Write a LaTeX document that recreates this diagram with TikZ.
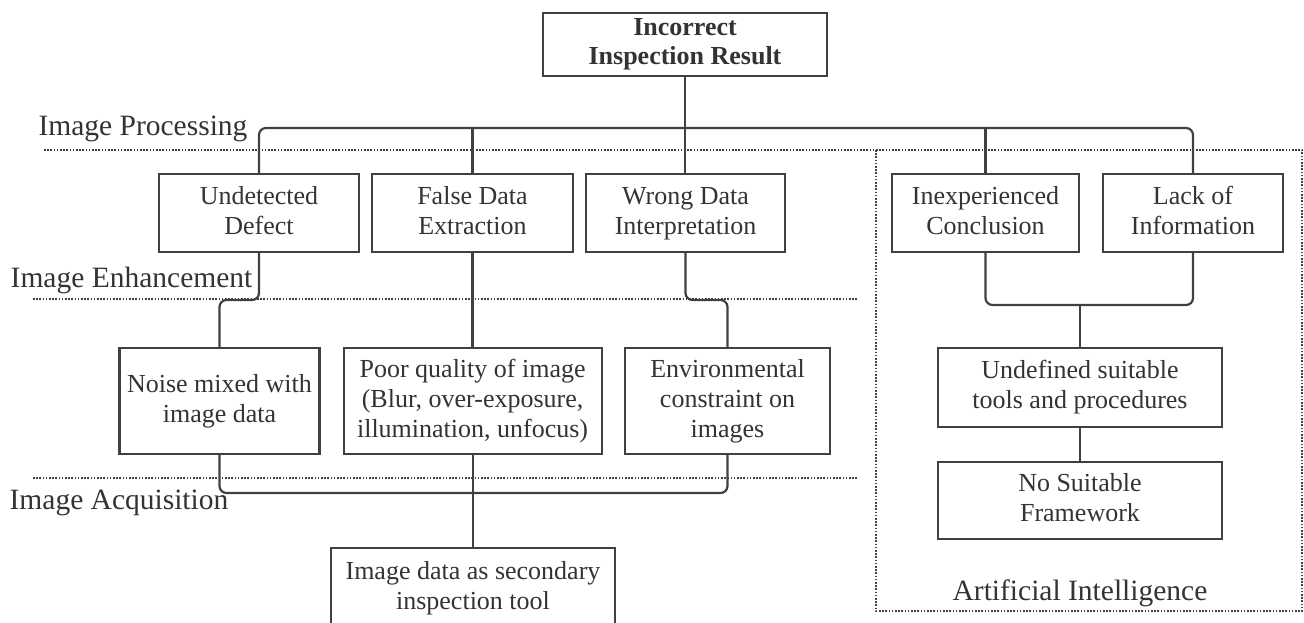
\documentclass[tikz,border=0pt]{standalone}
\usepackage{fontspec}
\setmainfont{Liberation Serif}
\begin{document}
\begin{tikzpicture}[x=1pt,y=-1pt,
  every node/.style={text=black!80},
  box/.style={draw=black!75, line width=2.2pt, inner sep=0pt, align=center,
    font=\fontsize{26}{30}\selectfont},
  conn/.style={draw=black!75, line width=2.2pt, rounded corners=7pt},
  sep/.style={draw=black!75, line width=2.2pt, dash pattern=on 1.6pt off 1.6pt},
  lab/.style={font=\fontsize{29.5}{33}\selectfont, anchor=base, inner sep=0pt}]
\useasboundingbox (0,0) rectangle (1304,622);
\clip (0,0) rectangle (1304,622);
% separators
\draw[sep] (44,150) -- (1302,150);
\draw[sep] (33,299) -- (858,299);
\draw[sep] (33,478) -- (858,478);
\draw[sep] (876,150) -- (876,611) -- (1302,611) -- (1302,150);
% labels
\node[lab] (lp) at (143,135) {Image Processing};
\node[lab] (le) at (131.5,287) {Image Enhancement};
\node[lab] (la) at (119,509) {Image Acquisition};
\node[lab] (lai) at (1080,600) {Artificial Intelligence};
% boxes
\node[box, minimum width=284, minimum height=63, font=\fontsize{26}{29}\selectfont\bfseries] (top) at (685,44.5) {\strut Incorrect\\Inspection Result\strut};
\node[box, minimum width=200, minimum height=78] (ud) at (259,213) {\strut Undetected\\Defect\strut};
\node[box, minimum width=201, minimum height=78] (fd) at (472.5,213) {\strut False Data\\Extraction\strut};
\node[box, minimum width=199, minimum height=78] (wd) at (685.5,213) {\strut Wrong Data\\Interpretation\strut};
\node[box, minimum width=187, minimum height=78] (ic) at (985.5,213) {\strut Inexperienced\\Conclusion\strut};
\node[box, minimum width=180, minimum height=78] (li) at (1193,213) {\strut Lack of\\Information\strut};
\node[box, minimum width=200, minimum height=106] (noise) at (219.5,401) {\strut Noise mixed with\\image data\strut};
\node[box, minimum width=258, minimum height=106] (poor) at (472.6,401) {\strut Poor quality of image\\(Blur, over-exposure,\\illumination, unfocus)\strut};
\node[box, minimum width=205, minimum height=106] (env) at (727.5,401) {\strut Environmental\\constraint on\\images\strut};
\node[box, minimum width=284, minimum height=79] (und) at (1080,387.5) {\strut Undefined suitable\\tools and procedures\strut};
\node[box, minimum width=284, minimum height=77] (nsf) at (1080,500.5) {\strut No Suitable\\Framework\strut};
\node[box, minimum width=284, minimum height=80] (img) at (473,588) {\strut Image data as secondary\\inspection tool\strut};
% bus coordinates
\coordinate (bus) at (0,128);
\coordinate (enh) at (0,300);
\coordinate (acq) at (0,493);
\coordinate (aib) at (0,305);
% connectors
\draw[conn] (top.south) -- (top.south |- wd.north);
\draw[conn] (ud.north) -- (ud.north |- bus) -- (li.north |- bus) -- (li.north);
\draw[conn] (fd.north) -- (fd.north |- bus);
\draw[conn] (ic.north) -- (ic.north |- bus);
\draw[conn] (ud.south) -- (ud.south |- enh) -- (noise.north |- enh) -- (noise.north);
\draw[conn] (fd.south) -- (fd.south |- poor.north);
\draw[conn] (wd.south) -- (wd.south |- enh) -- (env.north |- enh) -- (env.north);
\draw[conn] (noise.south) -- (noise.south |- acq) -- (env.south |- acq) -- (env.south);
\draw[conn] (poor.south) -- (poor.south |- img.north);
\draw[conn] (ic.south) -- (ic.south |- aib) -- (li.south |- aib) -- (li.south);
\draw[conn] (und.north |- aib) -- (und.north);
\draw[conn] (und.south) -- (nsf.north);
\end{tikzpicture}
\end{document}
